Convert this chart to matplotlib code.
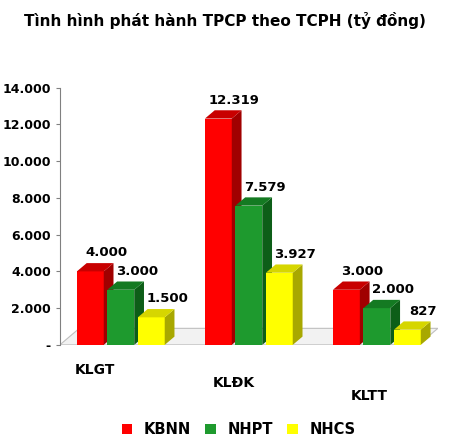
import matplotlib
matplotlib.use("Agg")
import matplotlib.pyplot as plt
from matplotlib.patches import Polygon, Patch

categories = ["KLGT", "KLĐK", "KLTT"]
series = ["KBNN", "NHPT", "NHCS"]
values = {
    "KBNN": [4000, 12319, 3000],
    "NHPT": [3000, 7579, 2000],
    "NHCS": [1500, 3927, 827],
}
labels = {
    "KBNN": ["4.000", "12.319", "3.000"],
    "NHPT": ["3.000", "7.579", "2.000"],
    "NHCS": ["1.500", "3.927", "827"],
}
front = {"KBNN": "#FF0000", "NHPT": "#1E9A2E", "NHCS": "#FFFF00"}
side = {"KBNN": "#A00000", "NHPT": "#0D5E18", "NHCS": "#A8A800"}
top = {"KBNN": "#C80000", "NHPT": "#147A22", "NHCS": "#D6D600"}

fig = plt.figure(figsize=(4.5, 4.45), dpi=100)
ax = fig.add_axes([0.133, 0.225, 0.84, 0.578])
ax.set_xlim(-0.5, 2.6)
ax.set_ylim(0, 14000)

w = 0.22
dx, dy = 0.08, 450
fl = Polygon([(-0.5, 0), (-0.5 + dx * 2, dy * 2), (2.6, dy * 2), (2.6 - dx * 2, 0)],
             closed=True, fc="#F2F2F2", ec="#BFBFBF", lw=0.8, zorder=0)
ax.add_patch(fl)

for ci, cat in enumerate(categories):
    for si, s in enumerate(series):
        x0 = ci + (si - 1) * (w + 0.03) - w / 2 + ci * 0.05
        v = values[s][ci]
        ax.add_patch(Polygon([(x0, 0), (x0 + w, 0), (x0 + w, v), (x0, v)], fc=front[s], ec="none", zorder=3 + si))
        ax.add_patch(Polygon([(x0 + w, 0), (x0 + w + dx, dy), (x0 + w + dx, v + dy), (x0 + w, v)], fc=side[s], ec="none", zorder=3 + si))
        ax.add_patch(Polygon([(x0, v), (x0 + dx, v + dy), (x0 + w + dx, v + dy), (x0 + w, v)], fc=top[s], ec="none", zorder=3 + si))
        ax.text(x0 + w / 2 + dx + 0.05, v + dy + 200, labels[s][ci], ha="center", va="bottom",
                fontsize=9.5, fontweight="bold", zorder=10)

ticks = list(range(0, 14001, 2000))
ax.set_yticks(ticks)
ax.set_yticklabels(["-"] + [f"{t//1000}.000" for t in ticks[1:]], fontsize=9, fontweight="bold")
ax.set_xticks([])
for sp in ["top", "right", "bottom"]:
    ax.spines[sp].set_visible(False)
ax.spines["left"].set_color("#808080")
ax.tick_params(axis="y", length=3, color="#808080")

for ci, cat in enumerate(categories):
    fig.text([0.21, 0.52, 0.82][ci], [0.16, 0.13, 0.1][ci], cat, ha="center", fontsize=10, fontweight="bold")

fig.text(0.5, 0.955, "Tình hình phát hành TPCP theo TCPH (tỷ đồng)", ha="center", va="center",
         fontsize=11, fontweight="bold")
handles = [Patch(fc=front[s]) for s in series]
fig.legend(handles, series, loc="center", bbox_to_anchor=(0.53, 0.035), ncol=3, frameon=False,
           prop={"weight": "bold", "size": 10.5}, handlelength=0.7, handleheight=0.7, columnspacing=1.0)
fig.savefig("out.png", dpi=100)
